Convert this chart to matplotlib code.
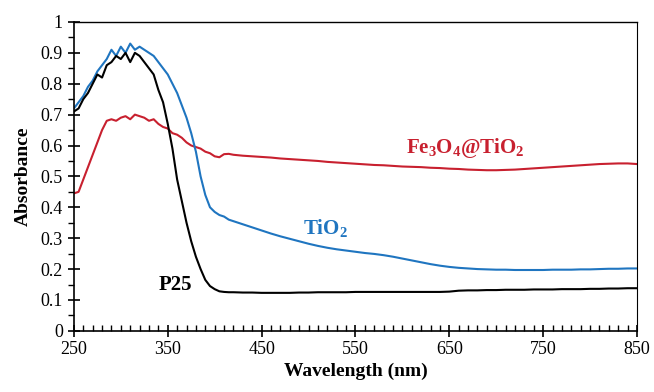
import matplotlib
matplotlib.use("Agg")
import matplotlib.pyplot as plt
from matplotlib.ticker import MultipleLocator

plt.rcParams['font.family'] = ['Liberation Serif', 'DejaVu Serif']
plt.rcParams['mathtext.fontset'] = 'custom'
plt.rcParams['mathtext.rm'] = 'Liberation Serif:bold'
plt.rcParams['mathtext.it'] = 'Liberation Serif:bold'
plt.rcParams['mathtext.bf'] = 'Liberation Serif:bold'
plt.rcParams['mathtext.default'] = 'bf'

wavelength = list(range(250, 421, 5)) + list(range(430, 851, 10))

p25 = [0.71, 0.72, 0.75, 0.77, 0.80, 0.83, 0.82, 0.86, 0.87, 0.89, 0.88, 0.90, 0.87, 0.90,
       0.89, 0.87, 0.85, 0.83, 0.78, 0.74, 0.67, 0.59, 0.49, 0.42, 0.35, 0.29, 0.24, 0.20,
       0.165, 0.145, 0.135, 0.128, 0.126, 0.125, 0.125,
       0.124, 0.124, 0.123, 0.123, 0.123, 0.123, 0.124, 0.124, 0.125, 0.125, 0.125, 0.125,
       0.126, 0.126, 0.126, 0.126, 0.126, 0.126, 0.126, 0.126, 0.126, 0.126, 0.127, 0.130,
       0.131, 0.131, 0.132, 0.132, 0.133, 0.133, 0.133, 0.134, 0.134, 0.134, 0.135, 0.135,
       0.135, 0.136, 0.136, 0.137, 0.137, 0.138, 0.138]

tio2 = [0.72, 0.74, 0.76, 0.79, 0.81, 0.84, 0.86, 0.88, 0.91, 0.89, 0.92, 0.90, 0.93, 0.91,
        0.92, 0.91, 0.90, 0.89, 0.87, 0.85, 0.83, 0.80, 0.77, 0.73, 0.69, 0.64, 0.58, 0.50,
        0.44, 0.40, 0.385, 0.375, 0.37, 0.36, 0.355,
        0.345, 0.335, 0.325, 0.315, 0.306, 0.298, 0.29, 0.282, 0.275, 0.269, 0.264, 0.26,
        0.256, 0.252, 0.249, 0.245, 0.24, 0.234, 0.228, 0.222, 0.216, 0.211, 0.207, 0.204,
        0.202, 0.2, 0.199, 0.198, 0.198, 0.197, 0.197, 0.197, 0.197, 0.198, 0.198, 0.198,
        0.199, 0.199, 0.2, 0.201, 0.201, 0.202, 0.202]

fe3o4_tio2 = [0.445, 0.45, 0.49, 0.53, 0.57, 0.61, 0.65, 0.68, 0.685, 0.68, 0.69, 0.695, 0.685,
              0.70, 0.695, 0.69, 0.68, 0.685, 0.67, 0.66, 0.655, 0.64, 0.635, 0.625, 0.61, 0.60,
              0.595, 0.59, 0.58, 0.575, 0.565, 0.562, 0.572, 0.573, 0.57,
              0.567, 0.565, 0.563, 0.561, 0.558, 0.556, 0.554, 0.552, 0.55, 0.547, 0.545, 0.543,
              0.541, 0.539, 0.537, 0.536, 0.534, 0.532, 0.531, 0.53, 0.528, 0.527, 0.525, 0.524,
              0.522, 0.521, 0.52, 0.52, 0.521, 0.522, 0.524, 0.526, 0.528, 0.53, 0.532, 0.534,
              0.536, 0.538, 0.54, 0.541, 0.542, 0.542, 0.54]

x_ticks = [250, 350, 450, 550, 650, 750, 850]
y_ticks = [0.0, 0.1, 0.2, 0.3, 0.4, 0.5, 0.6, 0.7, 0.8, 0.9, 1.0]
y_tick_labels = ['0', '0.1', '0.2', '0.3', '0.4', '0.5', '0.6', '0.7', '0.8', '0.9', '1']

fig = plt.figure(figsize=(6.54, 3.92), dpi=100)
ax = fig.add_axes([0.113, 0.156, 0.861, 0.788])

ax.plot(wavelength, fe3o4_tio2, color='#C8202F', lw=1.5)
ax.plot(wavelength, tio2, color='#1F75C0', lw=1.5)
ax.plot(wavelength, p25, color='black', lw=1.5)

ax.set_xlim(250, 850)
ax.set_ylim(0, 1)
ax.set_xticks(x_ticks)
ax.set_xticklabels([str(v) for v in x_ticks])
ax.xaxis.set_minor_locator(MultipleLocator(10))
ax.set_yticks(y_ticks)
ax.set_yticklabels(y_tick_labels)
ax.yaxis.set_minor_locator(MultipleLocator(0.05))
ax.tick_params(axis='x', which='major', direction='inout', length=8, width=1.2, labelsize=13, pad=3)
ax.tick_params(axis='x', which='minor', direction='in', length=4, width=1)
ax.tick_params(axis='y', which='major', direction='inout', length=8, width=1.2, labelsize=13, pad=4)
ax.tick_params(axis='y', which='minor', direction='out', length=4, width=1)
for s in ax.spines.values():
    s.set_linewidth(1.2)
ax.spines['top'].set_linewidth(1.0)
ax.spines['right'].set_linewidth(0.8)

ax.set_xlabel('Wavelength (nm)', fontsize=14, fontweight='bold', labelpad=4)
ax.set_ylabel('Absorbance', fontsize=14, fontweight='bold', labelpad=6)

ax.text(358, 0.15, 'P25', fontsize=15, fontweight='bold', color='black', ha='center', va='center')
ax.text(518, 0.333, r'TiO$_2$', fontsize=15, fontweight='bold', color='#1F75C0', ha='center', va='center')
ax.text(667, 0.592, r'Fe$_3$O$_4$@TiO$_2$', fontsize=15, fontweight='bold', color='#C8202F', ha='center', va='center')

fig.savefig('out.png', dpi=100)
